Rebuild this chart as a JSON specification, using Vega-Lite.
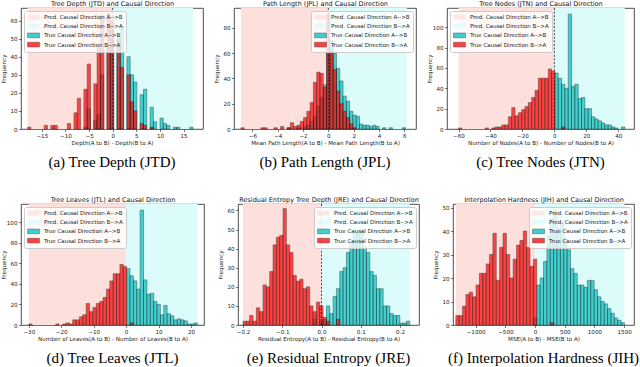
{
"$schema": "https://vega.github.io/schema/vega-lite/v6.json",
"padding": {"left": 0, "top": 0, "right": 0, "bottom": 0},
"background": "white",
"config": {
 "font": "DejaVu Sans",
 "view": {"stroke": "#222222", "strokeWidth": 0.8},
 "axis": {"grid": false, "domain": false, "ticks": true, "tickSize": 2.5, "tickWidth": 0.6, "tickColor": "#222222", "labelFontSize": 5.6, "labelColor": "#222222", "labelPadding": 1.5, "labelFlush": false, "labelOverlap": false, "titleFontSize": 5.6, "titleFontWeight": "normal", "titleColor": "#222222", "titlePadding": 2},
 "axisY": {"minExtent": 14, "maxExtent": 14, "titlePadding": 1},
 "title": {"fontSize": 15, "fontWeight": "normal", "color": "#000000", "font": "Liberation Serif", "orient": "bottom", "anchor": "middle", "offset": 9},
 "legend": {"labelFontSize": 5.5, "labelFont": "DejaVu Sans", "labelColor": "#222222", "symbolType": "M-1,-0.94H3.8V0.94H-1Z", "symbolSize": 25, "rowPadding": 1.2, "padding": 3, "fillColor": "rgba(255,255,255,0.8)", "strokeColor": "#cccccc", "cornerRadius": 2, "offset": 3, "labelLimit": 300, "labelOffset": 11, "symbolOpacity": 0.75, "symbolStrokeWidth": 0}
},
"datasets": {
 "bg": [
  {"p":"a","s":"PA","x":-18,"x2":0},{"p":"a","s":"PB","x":0,"x2":17},
  {"p":"b","s":"PA","x":-6.9,"x2":0},{"p":"b","s":"PB","x":0,"x2":6.2},
  {"p":"c","s":"PA","x":-60,"x2":0},{"p":"c","s":"PB","x":0,"x2":44},
  {"p":"d","s":"PA","x":-30,"x2":0},{"p":"d","s":"PB","x":0,"x2":22},
  {"p":"e","s":"PA","x":-0.2,"x2":0},{"p":"e","s":"PB","x":0,"x2":0.225},
  {"p":"f","s":"PA","x":-1334,"x2":0},{"p":"f","s":"PB","x":0,"x2":1506}
 ],
 "a": [
  {"s":"TA","x":-6.1,"x2":-5.4,"y":1},{"s":"TA","x":-5.4,"x2":-4.7,"y":11},{"s":"TA","x":-4,"x2":-3.3,"y":5},{"s":"TA","x":-3.3,"x2":-2.6,"y":8},{"s":"TA","x":-2.6,"x2":-1.9,"y":30},{"s":"TA","x":-1.2,"x2":-0.5,"y":46},{"s":"TA","x":-0.5,"x2":0.2,"y":54},{"s":"TA","x":0.9,"x2":1.6,"y":52},{"s":"TA","x":1.6,"x2":2.3,"y":57},{"s":"TA","x":3,"x2":3.7,"y":40},{"s":"TA","x":3.7,"x2":4.4,"y":30},{"s":"TA","x":4.4,"x2":5.1,"y":26},{"s":"TA","x":5.8,"x2":6.5,"y":19},{"s":"TA","x":6.5,"x2":7.2,"y":22},{"s":"TA","x":7.9,"x2":8.6,"y":12},{"s":"TA","x":8.6,"x2":9.3,"y":4},{"s":"TA","x":10,"x2":10.7,"y":6},{"s":"TA","x":10.7,"x2":11.4,"y":3},{"s":"TA","x":11.4,"x2":12.1,"y":2},{"s":"TA","x":12.8,"x2":13.5,"y":1},{"s":"TA","x":13.5,"x2":14.2,"y":1},{"s":"TA","x":16.3,"x2":17,"y":1},
  {"s":"TB","x":-18,"x2":-17.3,"y":1},{"s":"TB","x":-14.5,"x2":-13.8,"y":2},{"s":"TB","x":-13.1,"x2":-12.4,"y":2},{"s":"TB","x":-12.4,"x2":-11.7,"y":2},{"s":"TB","x":-9.6,"x2":-8.9,"y":3},{"s":"TB","x":-8.2,"x2":-7.5,"y":9},{"s":"TB","x":-7.5,"x2":-6.8,"y":17},{"s":"TB","x":-6.1,"x2":-5.4,"y":22},{"s":"TB","x":-5.4,"x2":-4.7,"y":36},{"s":"TB","x":-4,"x2":-3.3,"y":25},{"s":"TB","x":-3.3,"x2":-2.6,"y":45},{"s":"TB","x":-2.6,"x2":-1.9,"y":63},{"s":"TB","x":-1.2,"x2":-0.5,"y":64},{"s":"TB","x":-0.5,"x2":0.2,"y":60},{"s":"TB","x":0.9,"x2":1.6,"y":50},{"s":"TB","x":1.6,"x2":2.3,"y":34},{"s":"TB","x":3,"x2":3.7,"y":30},{"s":"TB","x":3.7,"x2":4.4,"y":15},{"s":"TB","x":4.4,"x2":5.1,"y":10},{"s":"TB","x":5.8,"x2":6.5,"y":3},{"s":"TB","x":6.5,"x2":7.2,"y":2},{"s":"TB","x":7.9,"x2":8.6,"y":1}
 ],
 "b": [
  {"s":"TA","x":-3.26,"x2":-3.0,"y":1},{"s":"TA","x":-2.48,"x2":-2.22,"y":1},{"s":"TA","x":-1.96,"x2":-1.7,"y":2},{"s":"TA","x":-1.7,"x2":-1.44,"y":3},{"s":"TA","x":-1.44,"x2":-1.18,"y":6},{"s":"TA","x":-1.18,"x2":-0.92,"y":10},{"s":"TA","x":-0.92,"x2":-0.66,"y":18},{"s":"TA","x":-0.66,"x2":-0.4,"y":25},{"s":"TA","x":-0.4,"x2":-0.14,"y":35},{"s":"TA","x":-0.14,"x2":0.12,"y":60},{"s":"TA","x":0.12,"x2":0.38,"y":70},{"s":"TA","x":0.38,"x2":0.64,"y":60},{"s":"TA","x":0.64,"x2":0.9,"y":48},{"s":"TA","x":0.9,"x2":1.16,"y":38},{"s":"TA","x":1.16,"x2":1.42,"y":26},{"s":"TA","x":1.42,"x2":1.68,"y":22},{"s":"TA","x":1.68,"x2":1.94,"y":14},{"s":"TA","x":1.94,"x2":2.2,"y":11},{"s":"TA","x":2.2,"x2":2.46,"y":10},{"s":"TA","x":2.46,"x2":2.72,"y":4},{"s":"TA","x":2.72,"x2":2.98,"y":3},{"s":"TA","x":2.98,"x2":3.24,"y":3},{"s":"TA","x":3.24,"x2":3.5,"y":2},{"s":"TA","x":3.5,"x2":3.76,"y":3},{"s":"TA","x":3.76,"x2":4.02,"y":2},{"s":"TA","x":4.28,"x2":4.54,"y":1},{"s":"TA","x":4.8,"x2":5.06,"y":1},{"s":"TA","x":5.84,"x2":6.1,"y":1},
  {"s":"TB","x":-6.9,"x2":-6.64,"y":1},{"s":"TB","x":-5.34,"x2":-5.08,"y":1},{"s":"TB","x":-5.08,"x2":-4.82,"y":1},{"s":"TB","x":-4.3,"x2":-4.04,"y":1},{"s":"TB","x":-3.78,"x2":-3.52,"y":2},{"s":"TB","x":-3.26,"x2":-3.0,"y":1},{"s":"TB","x":-3.0,"x2":-2.74,"y":5},{"s":"TB","x":-2.74,"x2":-2.48,"y":2},{"s":"TB","x":-2.48,"x2":-2.22,"y":3},{"s":"TB","x":-2.22,"x2":-1.96,"y":6},{"s":"TB","x":-1.96,"x2":-1.7,"y":9},{"s":"TB","x":-1.7,"x2":-1.44,"y":14},{"s":"TB","x":-1.44,"x2":-1.18,"y":21},{"s":"TB","x":-1.18,"x2":-0.92,"y":37},{"s":"TB","x":-0.92,"x2":-0.66,"y":45},{"s":"TB","x":-0.66,"x2":-0.4,"y":44},{"s":"TB","x":-0.4,"x2":-0.14,"y":33},{"s":"TB","x":-0.14,"x2":0.12,"y":91},{"s":"TB","x":0.12,"x2":0.38,"y":62},{"s":"TB","x":0.38,"x2":0.64,"y":47},{"s":"TB","x":0.64,"x2":0.9,"y":30},{"s":"TB","x":0.9,"x2":1.16,"y":20},{"s":"TB","x":1.16,"x2":1.42,"y":14},{"s":"TB","x":1.42,"x2":1.68,"y":9},{"s":"TB","x":1.68,"x2":1.94,"y":4},{"s":"TB","x":1.94,"x2":2.2,"y":1}
 ],
 "c": [
  {"s":"TA","x":0.32,"x2":2.4,"y":55},{"s":"TA","x":2.4,"x2":4.48,"y":50},{"s":"TA","x":4.48,"x2":6.56,"y":44},{"s":"TA","x":6.56,"x2":8.64,"y":40},{"s":"TA","x":8.64,"x2":10.72,"y":113},{"s":"TA","x":10.72,"x2":12.8,"y":42},{"s":"TA","x":12.8,"x2":14.88,"y":44},{"s":"TA","x":14.88,"x2":16.96,"y":30},{"s":"TA","x":16.96,"x2":19.04,"y":31},{"s":"TA","x":19.04,"x2":21.12,"y":20},{"s":"TA","x":21.12,"x2":23.2,"y":20},{"s":"TA","x":23.2,"x2":25.28,"y":12},{"s":"TA","x":25.28,"x2":27.36,"y":10},{"s":"TA","x":27.36,"x2":29.44,"y":8},{"s":"TA","x":29.44,"x2":31.52,"y":6},{"s":"TA","x":31.52,"x2":33.6,"y":4},{"s":"TA","x":33.6,"x2":35.68,"y":4},{"s":"TA","x":35.68,"x2":37.76,"y":2},{"s":"TA","x":37.76,"x2":39.84,"y":1},{"s":"TA","x":41.92,"x2":44.0,"y":2},
  {"s":"TB","x":-60,"x2":-57.92,"y":1},{"s":"TB","x":-43.36,"x2":-41.28,"y":1},{"s":"TB","x":-39.2,"x2":-37.12,"y":1},{"s":"TB","x":-37.12,"x2":-35.04,"y":2},{"s":"TB","x":-35.04,"x2":-32.96,"y":2},{"s":"TB","x":-32.96,"x2":-30.88,"y":4},{"s":"TB","x":-30.88,"x2":-28.8,"y":4},{"s":"TB","x":-28.8,"x2":-26.72,"y":12},{"s":"TB","x":-26.72,"x2":-24.64,"y":21},{"s":"TB","x":-24.64,"x2":-22.56,"y":13},{"s":"TB","x":-22.56,"x2":-20.48,"y":16},{"s":"TB","x":-20.48,"x2":-18.4,"y":19},{"s":"TB","x":-18.4,"x2":-16.32,"y":22},{"s":"TB","x":-16.32,"x2":-14.24,"y":26},{"s":"TB","x":-14.24,"x2":-12.16,"y":31},{"s":"TB","x":-12.16,"x2":-10.08,"y":38},{"s":"TB","x":-10.08,"x2":-8.0,"y":50},{"s":"TB","x":-8.0,"x2":-5.92,"y":50},{"s":"TB","x":-5.92,"x2":-3.84,"y":50},{"s":"TB","x":-3.84,"x2":-1.76,"y":59},{"s":"TB","x":-1.76,"x2":0.32,"y":57},{"s":"TB","x":4.48,"x2":6.56,"y":2}
 ],
 "d": [
  {"s":"TA","x":0.16,"x2":1.2,"y":55},{"s":"TA","x":1.2,"x2":2.24,"y":48},{"s":"TA","x":2.24,"x2":3.28,"y":43},{"s":"TA","x":3.28,"x2":4.32,"y":35},{"s":"TA","x":4.32,"x2":5.36,"y":112},{"s":"TA","x":5.36,"x2":6.4,"y":44},{"s":"TA","x":6.4,"x2":7.44,"y":30},{"s":"TA","x":7.44,"x2":8.48,"y":31},{"s":"TA","x":8.48,"x2":9.52,"y":23},{"s":"TA","x":9.52,"x2":10.56,"y":20},{"s":"TA","x":10.56,"x2":11.6,"y":10},{"s":"TA","x":11.6,"x2":12.64,"y":19},{"s":"TA","x":12.64,"x2":13.68,"y":11},{"s":"TA","x":13.68,"x2":14.72,"y":9},{"s":"TA","x":14.72,"x2":15.76,"y":5},{"s":"TA","x":15.76,"x2":16.8,"y":6},{"s":"TA","x":16.8,"x2":17.84,"y":5},{"s":"TA","x":17.84,"x2":18.88,"y":4},{"s":"TA","x":18.88,"x2":19.92,"y":1},{"s":"TA","x":19.92,"x2":20.96,"y":1},{"s":"TA","x":20.96,"x2":22.0,"y":2},
  {"s":"TB","x":-30,"x2":-28.96,"y":1},{"s":"TB","x":-21.68,"x2":-20.64,"y":1},{"s":"TB","x":-19.6,"x2":-18.56,"y":1},{"s":"TB","x":-18.56,"x2":-17.52,"y":2},{"s":"TB","x":-17.52,"x2":-16.48,"y":1},{"s":"TB","x":-16.48,"x2":-15.44,"y":5},{"s":"TB","x":-15.44,"x2":-14.4,"y":5},{"s":"TB","x":-14.4,"x2":-13.36,"y":8},{"s":"TB","x":-13.36,"x2":-12.32,"y":10},{"s":"TB","x":-12.32,"x2":-11.28,"y":21},{"s":"TB","x":-11.28,"x2":-10.24,"y":13},{"s":"TB","x":-10.24,"x2":-9.2,"y":17},{"s":"TB","x":-9.2,"x2":-8.16,"y":21},{"s":"TB","x":-8.16,"x2":-7.12,"y":23},{"s":"TB","x":-7.12,"x2":-6.08,"y":27},{"s":"TB","x":-6.08,"x2":-5.04,"y":35},{"s":"TB","x":-5.04,"x2":-4.0,"y":43},{"s":"TB","x":-4.0,"x2":-2.96,"y":50},{"s":"TB","x":-2.96,"x2":-1.92,"y":50},{"s":"TB","x":-1.92,"x2":-0.88,"y":59},{"s":"TB","x":-0.88,"x2":0.16,"y":57},{"s":"TB","x":1.2,"x2":2.24,"y":2}
 ],
 "e": [
  {"s":"TA","x":-0.0215,"x2":-0.013,"y":3},{"s":"TA","x":-0.0045,"x2":0.004,"y":2},{"s":"TA","x":0.004,"x2":0.0125,"y":3},{"s":"TA","x":0.0125,"x2":0.021,"y":10},{"s":"TA","x":0.021,"x2":0.0295,"y":6},{"s":"TA","x":0.0295,"x2":0.038,"y":15},{"s":"TA","x":0.038,"x2":0.0465,"y":19},{"s":"TA","x":0.0465,"x2":0.055,"y":28},{"s":"TA","x":0.055,"x2":0.0635,"y":30},{"s":"TA","x":0.0635,"x2":0.072,"y":38},{"s":"TA","x":0.072,"x2":0.0805,"y":44},{"s":"TA","x":0.0805,"x2":0.089,"y":50},{"s":"TA","x":0.089,"x2":0.0975,"y":48},{"s":"TA","x":0.0975,"x2":0.106,"y":50},{"s":"TA","x":0.106,"x2":0.1145,"y":41},{"s":"TA","x":0.1145,"x2":0.123,"y":38},{"s":"TA","x":0.123,"x2":0.1315,"y":28},{"s":"TA","x":0.1315,"x2":0.14,"y":26},{"s":"TA","x":0.14,"x2":0.1485,"y":19},{"s":"TA","x":0.1485,"x2":0.157,"y":19},{"s":"TA","x":0.157,"x2":0.1655,"y":10},{"s":"TA","x":0.1655,"x2":0.174,"y":10},{"s":"TA","x":0.174,"x2":0.1825,"y":6},{"s":"TA","x":0.1825,"x2":0.191,"y":5},{"s":"TA","x":0.191,"x2":0.1995,"y":5},{"s":"TA","x":0.1995,"x2":0.208,"y":1},{"s":"TA","x":0.208,"x2":0.2165,"y":1},{"s":"TA","x":0.2165,"x2":0.225,"y":2},
  {"s":"TB","x":-0.2,"x2":-0.1915,"y":2},{"s":"TB","x":-0.1915,"x2":-0.183,"y":2},{"s":"TB","x":-0.183,"x2":-0.1745,"y":5},{"s":"TB","x":-0.1745,"x2":-0.166,"y":2},{"s":"TB","x":-0.166,"x2":-0.1575,"y":9},{"s":"TB","x":-0.1575,"x2":-0.149,"y":7},{"s":"TB","x":-0.149,"x2":-0.1405,"y":21},{"s":"TB","x":-0.1405,"x2":-0.132,"y":20},{"s":"TB","x":-0.132,"x2":-0.1235,"y":28},{"s":"TB","x":-0.1235,"x2":-0.115,"y":42},{"s":"TB","x":-0.115,"x2":-0.1065,"y":46},{"s":"TB","x":-0.1065,"x2":-0.098,"y":47},{"s":"TB","x":-0.098,"x2":-0.0895,"y":61},{"s":"TB","x":-0.0895,"x2":-0.081,"y":42},{"s":"TB","x":-0.081,"x2":-0.0725,"y":38},{"s":"TB","x":-0.0725,"x2":-0.064,"y":26},{"s":"TB","x":-0.064,"x2":-0.0555,"y":23},{"s":"TB","x":-0.0555,"x2":-0.047,"y":24},{"s":"TB","x":-0.047,"x2":-0.0385,"y":19},{"s":"TB","x":-0.0385,"x2":-0.03,"y":20},{"s":"TB","x":-0.03,"x2":-0.0215,"y":10},{"s":"TB","x":-0.0215,"x2":-0.013,"y":7},{"s":"TB","x":-0.013,"x2":-0.0045,"y":12},{"s":"TB","x":-0.0045,"x2":0.004,"y":10},{"s":"TB","x":0.004,"x2":0.0125,"y":4},{"s":"TB","x":0.0125,"x2":0.021,"y":2},{"s":"TB","x":0.038,"x2":0.0465,"y":3}
 ],
 "f": [
  {"s":"TA","x":-27.6,"x2":29.2,"y":3},{"s":"TA","x":29.2,"x2":86,"y":17},{"s":"TA","x":86,"x2":142.8,"y":20},{"s":"TA","x":142.8,"x2":199.6,"y":27},{"s":"TA","x":199.6,"x2":256.4,"y":38},{"s":"TA","x":256.4,"x2":313.2,"y":45},{"s":"TA","x":313.2,"x2":370,"y":49},{"s":"TA","x":370,"x2":426.8,"y":41},{"s":"TA","x":426.8,"x2":483.6,"y":44},{"s":"TA","x":483.6,"x2":540.4,"y":37},{"s":"TA","x":540.4,"x2":597.2,"y":32},{"s":"TA","x":597.2,"x2":654,"y":24},{"s":"TA","x":654,"x2":710.8,"y":22},{"s":"TA","x":710.8,"x2":767.6,"y":17},{"s":"TA","x":767.6,"x2":824.4,"y":17},{"s":"TA","x":824.4,"x2":881.2,"y":16},{"s":"TA","x":881.2,"x2":938,"y":19},{"s":"TA","x":938,"x2":994.8,"y":19},{"s":"TA","x":994.8,"x2":1051.6,"y":15},{"s":"TA","x":1051.6,"x2":1108.4,"y":12},{"s":"TA","x":1108.4,"x2":1165.2,"y":10},{"s":"TA","x":1165.2,"x2":1222,"y":9},{"s":"TA","x":1222,"x2":1278.8,"y":7},{"s":"TA","x":1278.8,"x2":1335.6,"y":5},{"s":"TA","x":1335.6,"x2":1392.4,"y":3},{"s":"TA","x":1392.4,"x2":1449.2,"y":2},{"s":"TA","x":1449.2,"x2":1506,"y":1},
  {"s":"TB","x":-1334,"x2":-1277.2,"y":4},{"s":"TB","x":-1277.2,"x2":-1220.4,"y":4},{"s":"TB","x":-1220.4,"x2":-1163.6,"y":8},{"s":"TB","x":-1163.6,"x2":-1106.8,"y":13},{"s":"TB","x":-1106.8,"x2":-1050,"y":14},{"s":"TB","x":-1050,"x2":-993.2,"y":12},{"s":"TB","x":-993.2,"x2":-936.4,"y":17},{"s":"TB","x":-936.4,"x2":-879.6,"y":22},{"s":"TB","x":-879.6,"x2":-822.8,"y":22},{"s":"TB","x":-822.8,"x2":-766,"y":26},{"s":"TB","x":-766,"x2":-709.2,"y":30},{"s":"TB","x":-709.2,"x2":-652.4,"y":39},{"s":"TB","x":-652.4,"x2":-595.6,"y":19},{"s":"TB","x":-595.6,"x2":-538.8,"y":33},{"s":"TB","x":-538.8,"x2":-482,"y":39},{"s":"TB","x":-482,"x2":-425.2,"y":30},{"s":"TB","x":-425.2,"x2":-368.4,"y":20},{"s":"TB","x":-368.4,"x2":-311.6,"y":28},{"s":"TB","x":-311.6,"x2":-254.8,"y":34},{"s":"TB","x":-254.8,"x2":-198,"y":36},{"s":"TB","x":-198,"x2":-141.2,"y":40},{"s":"TB","x":-141.2,"x2":-84.4,"y":33},{"s":"TB","x":-84.4,"x2":-27.6,"y":25},{"s":"TB","x":-27.6,"x2":29.2,"y":28},{"s":"TB","x":256.4,"x2":313.2,"y":1}
 ]
},
"bounds": "flush",
"spacing": 196,
"resolve": {"scale": {"x": "independent", "y": "independent", "color": "independent"}, "legend": {"color": "independent"}, "axis": {"x": "independent", "y": "independent"}},
"vconcat": [
 {
  "bounds": "flush",
  "spacing": 31,
  "resolve": {"scale": {"x": "independent", "y": "independent", "color": "independent"}, "legend": {"color": "independent"}, "axis": {"x": "independent", "y": "independent"}},
  "hconcat": [
   {
    "width": 182, "height": 121,
    "title": {"text": "(a) Tree Depth (JTD)"},
    "resolve": {"axis": {"x": "independent"}},
    "layer": [
     {"data": {"name": "bg"}, "transform": [{"filter": "datum.p == 'a'"}], "mark": {"type": "rect"},
      "encoding": {
       "x": {"field": "x", "type": "quantitative", "scale": {"domain": [-19.4, 19.1], "nice": false, "zero": false}, "axis": {"values": [-15, -10, -5, 0, 5, 10, 15], "title": "Depth(A to B) - Depth(B to A)"}},
       "x2": {"field": "x2"},
       "color": {"field": "s", "type": "nominal", "scale": {"domain": ["PA", "PB", "TA", "TB"], "range": ["#fde0dc", "#dcfcfc", "#00bfbf", "#ff0000"]}, "legend": {"title": null, "orient": "top-left", "labelExpr": "datum.label == 'PA' ? 'Pred. Causal Direction A-->B' : datum.label == 'PB' ? 'Pred. Causal Direction B-->A' : datum.label == 'TA' ? 'True Causal Direction A-->B' : 'True Causal Direction B-->A'", "encode": {"symbols": {"update": {"stroke": {"signal": "datum.value == 'TA' || datum.value == 'TB' ? '#222222' : 'transparent'"}, "strokeWidth": {"value": 0.5}}}}}}}},
     {"data": {"name": "a"}, "mark": {"type": "rect", "opacity": 0.7, "stroke": "#000000", "strokeWidth": 0.5},
      "encoding": {
       "x": {"field": "x", "type": "quantitative", "scale": {"domain": [-19.4, 19.1], "nice": false, "zero": false}, "axis": {"orient": "top", "title": "Tree Depth (JTD) and Causal Direction", "labels": false, "ticks": false, "domain": false, "minExtent": 0, "maxExtent": 0, "titleFontSize": 6.5, "titleColor": "#111111", "titlePadding": 1.5}},
       "x2": {"field": "x2"},
       "y": {"field": "y", "type": "quantitative", "stack": null, "scale": {"domain": [0, 67], "nice": false}, "axis": {"values": [0, 10, 20, 30, 40, 50, 60], "title": "Frequency"}},
       "y2": {"datum": 0},
       "color": {"field": "s", "type": "nominal", "scale": {"domain": ["PA", "PB", "TA", "TB"], "range": ["#fde0dc", "#dcfcfc", "#00bfbf", "#ff0000"]}, "legend": {"title": null, "orient": "top-left", "labelExpr": "datum.label == 'PA' ? 'Pred. Causal Direction A-->B' : datum.label == 'PB' ? 'Pred. Causal Direction B-->A' : datum.label == 'TA' ? 'True Causal Direction A-->B' : 'True Causal Direction B-->A'", "encode": {"symbols": {"update": {"stroke": {"signal": "datum.value == 'TA' || datum.value == 'TB' ? '#222222' : 'transparent'"}, "strokeWidth": {"value": 0.5}}}}}}}},
     {"data": {"values": [{"x": 0}]}, "mark": {"type": "rule", "color": "#000000", "strokeDash": [2, 1.6], "strokeWidth": 0.7}, "encoding": {"x": {"field": "x", "type": "quantitative", "axis": null}}}
    ]
   },
   {
    "width": 182, "height": 121,
    "title": {"text": "(b) Path Length (JPL)"},
    "resolve": {"axis": {"x": "independent"}},
    "layer": [
     {"data": {"name": "bg"}, "transform": [{"filter": "datum.p == 'b'"}], "mark": {"type": "rect"},
      "encoding": {
       "x": {"field": "x", "type": "quantitative", "scale": {"domain": [-7.45, 6.92], "nice": false, "zero": false}, "axis": {"values": [-6, -4, -2, 0, 2, 4, 6], "title": "Mean Path Length(A to B) - Mean Path Length(B to A)"}},
       "x2": {"field": "x2"},
       "color": {"field": "s", "type": "nominal", "scale": {"domain": ["PA", "PB", "TA", "TB"], "range": ["#fde0dc", "#dcfcfc", "#00bfbf", "#ff0000"]}, "legend": {"title": null, "orient": "top-right", "labelExpr": "datum.label == 'PA' ? 'Pred. Causal Direction A-->B' : datum.label == 'PB' ? 'Pred. Causal Direction B-->A' : datum.label == 'TA' ? 'True Causal Direction A-->B' : 'True Causal Direction B-->A'", "encode": {"symbols": {"update": {"stroke": {"signal": "datum.value == 'TA' || datum.value == 'TB' ? '#222222' : 'transparent'"}, "strokeWidth": {"value": 0.5}}}}}}}},
     {"data": {"name": "b"}, "mark": {"type": "rect", "opacity": 0.7, "stroke": "#000000", "strokeWidth": 0.5},
      "encoding": {
       "x": {"field": "x", "type": "quantitative", "scale": {"domain": [-7.45, 6.92], "nice": false, "zero": false}, "axis": {"orient": "top", "title": "Path Length (JPL) and Causal Direction", "labels": false, "ticks": false, "domain": false, "minExtent": 0, "maxExtent": 0, "titleFontSize": 6.5, "titleColor": "#111111", "titlePadding": 1.5}},
       "x2": {"field": "x2"},
       "y": {"field": "y", "type": "quantitative", "stack": null, "scale": {"domain": [0, 95.7], "nice": false}, "axis": {"values": [0, 20, 40, 60, 80], "title": "Frequency"}},
       "y2": {"datum": 0},
       "color": {"field": "s", "type": "nominal", "scale": {"domain": ["PA", "PB", "TA", "TB"], "range": ["#fde0dc", "#dcfcfc", "#00bfbf", "#ff0000"]}, "legend": {"title": null, "orient": "top-right", "labelExpr": "datum.label == 'PA' ? 'Pred. Causal Direction A-->B' : datum.label == 'PB' ? 'Pred. Causal Direction B-->A' : datum.label == 'TA' ? 'True Causal Direction A-->B' : 'True Causal Direction B-->A'", "encode": {"symbols": {"update": {"stroke": {"signal": "datum.value == 'TA' || datum.value == 'TB' ? '#222222' : 'transparent'"}, "strokeWidth": {"value": 0.5}}}}}}}},
     {"data": {"values": [{"x": 0}]}, "mark": {"type": "rule", "color": "#000000", "strokeDash": [2, 1.6], "strokeWidth": 0.7}, "encoding": {"x": {"field": "x", "type": "quantitative", "axis": null}}}
    ]
   },
   {
    "width": 187, "height": 121,
    "title": {"text": "(c) Tree Nodes (JTN)"},
    "resolve": {"axis": {"x": "independent"}},
    "layer": [
     {"data": {"name": "bg"}, "transform": [{"filter": "datum.p == 'c'"}], "mark": {"type": "rect"},
      "encoding": {
       "x": {"field": "x", "type": "quantitative", "scale": {"domain": [-67.2, 49.8], "nice": false, "zero": false}, "axis": {"values": [-60, -40, -20, 0, 20, 40], "title": "Number of Nodes(A to B) - Number of Nodes(B to A)"}},
       "x2": {"field": "x2"},
       "color": {"field": "s", "type": "nominal", "scale": {"domain": ["PA", "PB", "TA", "TB"], "range": ["#fde0dc", "#dcfcfc", "#00bfbf", "#ff0000"]}, "legend": {"title": null, "orient": "top-left", "labelExpr": "datum.label == 'PA' ? 'Pred. Causal Direction A-->B' : datum.label == 'PB' ? 'Pred. Causal Direction B-->A' : datum.label == 'TA' ? 'True Causal Direction A-->B' : 'True Causal Direction B-->A'", "encode": {"symbols": {"update": {"stroke": {"signal": "datum.value == 'TA' || datum.value == 'TB' ? '#222222' : 'transparent'"}, "strokeWidth": {"value": 0.5}}}}}}}},
     {"data": {"name": "c"}, "mark": {"type": "rect", "opacity": 0.7, "stroke": "#000000", "strokeWidth": 0.5},
      "encoding": {
       "x": {"field": "x", "type": "quantitative", "scale": {"domain": [-67.2, 49.8], "nice": false, "zero": false}, "axis": {"orient": "top", "title": "Tree Nodes (JTN) and Causal Direction", "labels": false, "ticks": false, "domain": false, "minExtent": 0, "maxExtent": 0, "titleFontSize": 6.5, "titleColor": "#111111", "titlePadding": 1.5}},
       "x2": {"field": "x2"},
       "y": {"field": "y", "type": "quantitative", "stack": null, "scale": {"domain": [0, 119], "nice": false}, "axis": {"values": [0, 20, 40, 60, 80, 100], "title": "Frequency"}},
       "y2": {"datum": 0},
       "color": {"field": "s", "type": "nominal", "scale": {"domain": ["PA", "PB", "TA", "TB"], "range": ["#fde0dc", "#dcfcfc", "#00bfbf", "#ff0000"]}, "legend": {"title": null, "orient": "top-left", "labelExpr": "datum.label == 'PA' ? 'Pred. Causal Direction A-->B' : datum.label == 'PB' ? 'Pred. Causal Direction B-->A' : datum.label == 'TA' ? 'True Causal Direction A-->B' : 'True Causal Direction B-->A'", "encode": {"symbols": {"update": {"stroke": {"signal": "datum.value == 'TA' || datum.value == 'TB' ? '#222222' : 'transparent'"}, "strokeWidth": {"value": 0.5}}}}}}}},
     {"data": {"values": [{"x": 0}]}, "mark": {"type": "rule", "color": "#000000", "strokeDash": [2, 1.6], "strokeWidth": 0.7}, "encoding": {"x": {"field": "x", "type": "quantitative", "axis": null}}}
    ]
   }
  ]
 },
 {
  "bounds": "flush",
  "spacing": 34,
  "resolve": {"scale": {"x": "independent", "y": "independent", "color": "independent"}, "legend": {"color": "independent"}, "axis": {"x": "independent", "y": "independent"}},
  "hconcat": [
   {
    "width": 183, "height": 121,
    "title": {"text": "(d) Tree Leaves (JTL)"},
    "resolve": {"axis": {"x": "independent"}},
    "layer": [
     {"data": {"name": "bg"}, "transform": [{"filter": "datum.p == 'd'"}], "mark": {"type": "rect"},
      "encoding": {
       "x": {"field": "x", "type": "quantitative", "scale": {"domain": [-32.4, 24.0], "nice": false, "zero": false}, "axis": {"values": [-30, -20, -10, 0, 10, 20], "title": "Number of Leaves(A to B) - Number of Leaves(B to A)"}},
       "x2": {"field": "x2"},
       "color": {"field": "s", "type": "nominal", "scale": {"domain": ["PA", "PB", "TA", "TB"], "range": ["#fde0dc", "#dcfcfc", "#00bfbf", "#ff0000"]}, "legend": {"title": null, "orient": "top-left", "labelExpr": "datum.label == 'PA' ? 'Pred. Causal Direction A-->B' : datum.label == 'PB' ? 'Pred. Causal Direction B-->A' : datum.label == 'TA' ? 'True Causal Direction A-->B' : 'True Causal Direction B-->A'", "encode": {"symbols": {"update": {"stroke": {"signal": "datum.value == 'TA' || datum.value == 'TB' ? '#222222' : 'transparent'"}, "strokeWidth": {"value": 0.5}}}}}}}},
     {"data": {"name": "d"}, "mark": {"type": "rect", "opacity": 0.7, "stroke": "#000000", "strokeWidth": 0.5},
      "encoding": {
       "x": {"field": "x", "type": "quantitative", "scale": {"domain": [-32.4, 24.0], "nice": false, "zero": false}, "axis": {"orient": "top", "title": "Tree Leaves (JTL) and Causal Direction", "labels": false, "ticks": false, "domain": false, "minExtent": 0, "maxExtent": 0, "titleFontSize": 6.5, "titleColor": "#111111", "titlePadding": 1.5}},
       "x2": {"field": "x2"},
       "y": {"field": "y", "type": "quantitative", "stack": null, "scale": {"domain": [0, 118], "nice": false}, "axis": {"values": [0, 20, 40, 60, 80, 100], "title": "Frequency"}},
       "y2": {"datum": 0},
       "color": {"field": "s", "type": "nominal", "scale": {"domain": ["PA", "PB", "TA", "TB"], "range": ["#fde0dc", "#dcfcfc", "#00bfbf", "#ff0000"]}, "legend": {"title": null, "orient": "top-left", "labelExpr": "datum.label == 'PA' ? 'Pred. Causal Direction A-->B' : datum.label == 'PB' ? 'Pred. Causal Direction B-->A' : datum.label == 'TA' ? 'True Causal Direction A-->B' : 'True Causal Direction B-->A'", "encode": {"symbols": {"update": {"stroke": {"signal": "datum.value == 'TA' || datum.value == 'TB' ? '#222222' : 'transparent'"}, "strokeWidth": {"value": 0.5}}}}}}}}
    ]
   },
   {
    "width": 181, "height": 121,
    "title": {"text": "(e) Residual Entropy (JRE)"},
    "resolve": {"axis": {"x": "independent"}},
    "layer": [
     {"data": {"name": "bg"}, "transform": [{"filter": "datum.p == 'e'"}], "mark": {"type": "rect"},
      "encoding": {
       "x": {"field": "x", "type": "quantitative", "scale": {"domain": [-0.2127, 0.2483], "nice": false, "zero": false}, "axis": {"values": [-0.2, -0.1, 0, 0.1, 0.2], "format": ".1f", "title": "Residual Entropy(A to B) - Residual Entropy(B to A)"}},
       "x2": {"field": "x2"},
       "color": {"field": "s", "type": "nominal", "scale": {"domain": ["PA", "PB", "TA", "TB"], "range": ["#fde0dc", "#dcfcfc", "#00bfbf", "#ff0000"]}, "legend": {"title": null, "orient": "top-right", "labelExpr": "datum.label == 'PA' ? 'Pred. Causal Direction A-->B' : datum.label == 'PB' ? 'Pred. Causal Direction B-->A' : datum.label == 'TA' ? 'True Causal Direction A-->B' : 'True Causal Direction B-->A'", "encode": {"symbols": {"update": {"stroke": {"signal": "datum.value == 'TA' || datum.value == 'TB' ? '#222222' : 'transparent'"}, "strokeWidth": {"value": 0.5}}}}}}}},
     {"data": {"name": "e"}, "mark": {"type": "rect", "opacity": 0.7, "stroke": "#000000", "strokeWidth": 0.5},
      "encoding": {
       "x": {"field": "x", "type": "quantitative", "scale": {"domain": [-0.2127, 0.2483], "nice": false, "zero": false}, "axis": {"orient": "top", "title": "Residual Entropy Tree Depth (JRE) and Causal Direction", "labels": false, "ticks": false, "domain": false, "minExtent": 0, "maxExtent": 0, "titleFontSize": 6.5, "titleColor": "#111111", "titlePadding": 1.5}},
       "x2": {"field": "x2"},
       "y": {"field": "y", "type": "quantitative", "stack": null, "scale": {"domain": [0, 63.4], "nice": false}, "axis": {"values": [0, 10, 20, 30, 40, 50, 60], "title": "Frequency"}},
       "y2": {"datum": 0},
       "color": {"field": "s", "type": "nominal", "scale": {"domain": ["PA", "PB", "TA", "TB"], "range": ["#fde0dc", "#dcfcfc", "#00bfbf", "#ff0000"]}, "legend": {"title": null, "orient": "top-right", "labelExpr": "datum.label == 'PA' ? 'Pred. Causal Direction A-->B' : datum.label == 'PB' ? 'Pred. Causal Direction B-->A' : datum.label == 'TA' ? 'True Causal Direction A-->B' : 'True Causal Direction B-->A'", "encode": {"symbols": {"update": {"stroke": {"signal": "datum.value == 'TA' || datum.value == 'TB' ? '#222222' : 'transparent'"}, "strokeWidth": {"value": 0.5}}}}}}}},
     {"data": {"values": [{"x": 0}]}, "mark": {"type": "rule", "color": "#000000", "strokeDash": [2, 1.6], "strokeWidth": 0.7}, "encoding": {"x": {"field": "x", "type": "quantitative", "axis": null}}}
    ]
   },
   {
    "width": 181, "height": 121,
    "title": {"text": "(f) Interpolation Hardness (JIH)"},
    "resolve": {"axis": {"x": "independent"}},
    "layer": [
     {"data": {"name": "bg"}, "transform": [{"filter": "datum.p == 'f'"}], "mark": {"type": "rect"},
      "encoding": {
       "x": {"field": "x", "type": "quantitative", "scale": {"domain": [-1381, 1666], "nice": false, "zero": false}, "axis": {"values": [-1000, -500, 0, 500, 1000, 1500], "format": "d", "title": "MSE(A to B) - MSE(B to A)"}},
       "x2": {"field": "x2"},
       "color": {"field": "s", "type": "nominal", "scale": {"domain": ["PA", "PB", "TA", "TB"], "range": ["#fde0dc", "#dcfcfc", "#00bfbf", "#ff0000"]}, "legend": {"title": null, "orient": "top-right", "labelExpr": "datum.label == 'PA' ? 'Pred. Causal Direction A-->B' : datum.label == 'PB' ? 'Pred. Causal Direction B-->A' : datum.label == 'TA' ? 'True Causal Direction A-->B' : 'True Causal Direction B-->A'", "encode": {"symbols": {"update": {"stroke": {"signal": "datum.value == 'TA' || datum.value == 'TB' ? '#222222' : 'transparent'"}, "strokeWidth": {"value": 0.5}}}}}}}},
     {"data": {"name": "f"}, "mark": {"type": "rect", "opacity": 0.7, "stroke": "#000000", "strokeWidth": 0.5},
      "encoding": {
       "x": {"field": "x", "type": "quantitative", "scale": {"domain": [-1381, 1666], "nice": false, "zero": false}, "axis": {"orient": "top", "title": "Interpolation Hardness (JIH) and Causal Direction", "labels": false, "ticks": false, "domain": false, "minExtent": 0, "maxExtent": 0, "titleFontSize": 6.5, "titleColor": "#111111", "titlePadding": 1.5}},
       "x2": {"field": "x2"},
       "y": {"field": "y", "type": "quantitative", "stack": null, "scale": {"domain": [0, 51.5], "nice": false}, "axis": {"values": [0, 10, 20, 30, 40, 50], "title": "Frequency"}},
       "y2": {"datum": 0},
       "color": {"field": "s", "type": "nominal", "scale": {"domain": ["PA", "PB", "TA", "TB"], "range": ["#fde0dc", "#dcfcfc", "#00bfbf", "#ff0000"]}, "legend": {"title": null, "orient": "top-right", "labelExpr": "datum.label == 'PA' ? 'Pred. Causal Direction A-->B' : datum.label == 'PB' ? 'Pred. Causal Direction B-->A' : datum.label == 'TA' ? 'True Causal Direction A-->B' : 'True Causal Direction B-->A'", "encode": {"symbols": {"update": {"stroke": {"signal": "datum.value == 'TA' || datum.value == 'TB' ? '#222222' : 'transparent'"}, "strokeWidth": {"value": 0.5}}}}}}}}
    ]
   }
  ]
 }
]
}
